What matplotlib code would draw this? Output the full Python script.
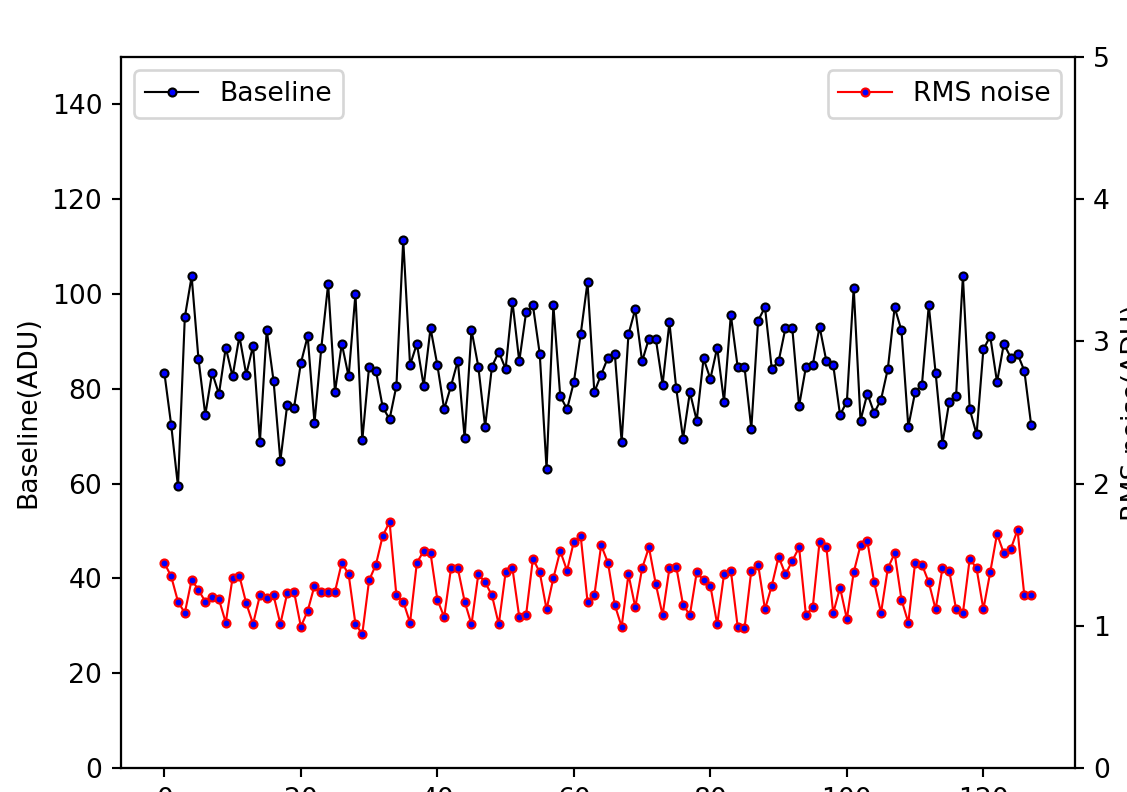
import numpy as np
import matplotlib
matplotlib.use("Agg")
import matplotlib.pyplot as plt

# channel index
channel = np.arange(128)

# baseline values (ADU)
baseline = [83.4, 72.4, 59.4, 95.1, 103.7, 86.3, 74.5, 83.4, 78.9, 88.7,
            82.6, 91.1, 83.0, 89.1, 68.8, 92.4, 81.7, 64.8, 76.6, 76.0,
            85.4, 91.1, 72.8, 88.7, 102.1, 79.3, 89.5, 82.6, 100.0, 69.1,
            84.7, 83.8, 76.1, 73.6, 80.6, 111.4, 85.0, 89.5, 80.6, 92.8,
            85.0, 75.7, 80.6, 85.9, 69.6, 92.4, 84.7, 72.0, 84.7, 87.8,
            84.2, 98.4, 85.8, 96.1, 97.6, 87.4, 63.1, 97.6, 78.5, 75.7,
            81.4, 91.5, 102.5, 79.3, 83.0, 86.6, 87.4, 68.8, 91.5, 96.8,
            85.8, 90.6, 90.6, 80.9, 94.0, 80.1, 69.5, 79.3, 73.3, 86.4,
            82.1, 88.7, 77.3, 95.6, 84.6, 84.6, 71.6, 94.4, 97.2, 84.2,
            85.8, 92.8, 92.8, 76.4, 84.6, 85.0, 93.1, 85.8, 85.0, 74.5,
            77.3, 101.3, 73.3, 79.0, 74.9, 77.7, 84.2, 97.2, 92.3, 72.0,
            79.3, 80.9, 97.6, 83.4, 68.4, 77.3, 78.5, 103.7, 75.7, 70.4,
            88.3, 91.1, 81.4, 89.5, 86.6, 87.4, 83.8, 72.4]

# RMS noise values (ADU)
rms = [1.442, 1.348, 1.170, 1.090, 1.324, 1.252, 1.170, 1.205, 1.186, 1.022,
       1.338, 1.350, 1.158, 1.013, 1.214, 1.198, 1.214, 1.013, 1.228, 1.240,
       0.994, 1.104, 1.282, 1.240, 1.240, 1.240, 1.444, 1.362, 1.013, 0.942,
       1.320, 1.430, 1.634, 1.730, 1.214, 1.170, 1.022, 1.444, 1.526, 1.510,
       1.184, 1.062, 1.404, 1.404, 1.170, 1.010, 1.362, 1.306, 1.214, 1.010,
       1.376, 1.404, 1.062, 1.076, 1.472, 1.376, 1.116, 1.336, 1.526, 1.388,
       1.592, 1.632, 1.170, 1.214, 1.566, 1.444, 1.146, 0.994, 1.362, 1.130,
       1.404, 1.552, 1.294, 1.076, 1.404, 1.416, 1.146, 1.076, 1.376, 1.320,
       1.282, 1.010, 1.362, 1.388, 0.994, 0.982, 1.388, 1.430, 1.116, 1.282,
       1.486, 1.362, 1.456, 1.552, 1.076, 1.130, 1.592, 1.552, 1.090, 1.268,
       1.048, 1.376, 1.566, 1.594, 1.306, 1.090, 1.404, 1.510, 1.184, 1.022,
       1.444, 1.430, 1.306, 1.116, 1.404, 1.388, 1.116, 1.090, 1.472, 1.404,
       1.116, 1.376, 1.646, 1.510, 1.538, 1.674, 1.214, 1.214]

dpi = 192
fig = plt.figure(figsize=(1127 / dpi, 792 / dpi), dpi=dpi)
ax1 = fig.add_axes([121 / 1127, 24 / 792, 953.5 / 1127, 711 / 792])

ax1.plot(channel, baseline, color="black", linewidth=0.8, marker="o",
         markersize=3, markerfacecolor="blue", markeredgecolor="black",
         markeredgewidth=0.8, label="Baseline")
ax1.set_ylim(0, 150)
ax1.set_ylabel("Baseline(ADU)")
ax1.legend(loc="upper left")

ax2 = ax1.twinx()
ax2.plot(channel, rms, color="red", linewidth=0.8, marker="o",
         markersize=3, markerfacecolor="blue", markeredgecolor="red",
         markeredgewidth=0.8, label="RMS noise")
ax2.set_ylim(0, 5)
ax2.set_ylabel("RMS noise(ADU)")
ax2.legend(loc="upper right")

fig.savefig("out.png", dpi=dpi)
